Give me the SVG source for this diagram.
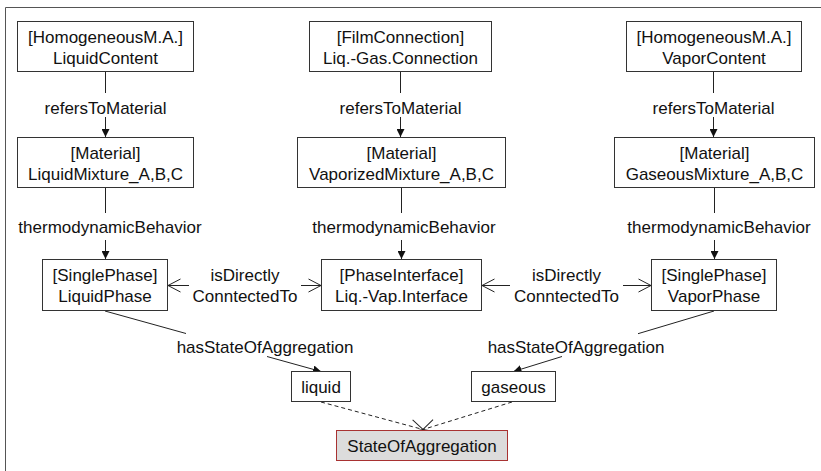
<svg xmlns="http://www.w3.org/2000/svg" width="821" height="471" viewBox="0 0 821 471">
<style>
text{font-family:"Liberation Sans",Arial,sans-serif;font-size:17px;fill:#111;text-anchor:middle}
.box{fill:#fff;stroke:#333;stroke-width:1}
.ln{stroke:#222;stroke-width:1;fill:none}
.dash{stroke:#222;stroke-width:1;fill:none;stroke-dasharray:4,3}
</style>
<defs>
<marker id="fa" viewBox="0 0 8 8" refX="8" refY="4" markerWidth="8" markerHeight="8" markerUnits="userSpaceOnUse" orient="auto"><path d="M0,0 L8,4 L0,8 z" fill="#111"/></marker>
<marker id="oa" viewBox="0 0 13 14" refX="12.5" refY="7" markerWidth="13" markerHeight="14" markerUnits="userSpaceOnUse" orient="auto" overflow="visible"><path d="M0,0.5 L12.5,7 L0,13.5" fill="none" stroke="#222" stroke-width="1"/></marker>
</defs>
<rect x="0" y="0" width="821" height="471" fill="#fff"/>
<path d="M5.5,480 V7.5 H830" fill="none" stroke="#555" stroke-width="1"/>

<g id="connectors">
<line class="ln" x1="105.5" y1="72" x2="105.5" y2="93"/>
<line class="ln" x1="105.5" y1="117" x2="105.5" y2="137" marker-end="url(#fa)"/>
<line class="ln" x1="400.5" y1="72" x2="400.5" y2="93"/>
<line class="ln" x1="400.5" y1="117" x2="400.5" y2="137" marker-end="url(#fa)"/>
<line class="ln" x1="713.5" y1="72" x2="713.5" y2="93"/>
<line class="ln" x1="713.5" y1="117" x2="713.5" y2="137" marker-end="url(#fa)"/>
<line class="ln" x1="105.5" y1="188" x2="105.5" y2="213"/>
<line class="ln" x1="105.5" y1="240" x2="105.5" y2="259" marker-end="url(#fa)"/>
<line class="ln" x1="401.5" y1="188" x2="401.5" y2="213"/>
<line class="ln" x1="401.5" y1="240" x2="401.5" y2="259" marker-end="url(#fa)"/>
<line class="ln" x1="714.5" y1="188" x2="714.5" y2="213"/>
<line class="ln" x1="714.5" y1="240" x2="714.5" y2="259" marker-end="url(#fa)"/>
<line class="ln" x1="189" y1="285.5" x2="168" y2="285.5" marker-end="url(#oa)"/>
<line class="ln" x1="301" y1="285.5" x2="321" y2="285.5" marker-end="url(#oa)"/>
<line class="ln" x1="510" y1="285.5" x2="482" y2="285.5" marker-end="url(#oa)"/>
<line class="ln" x1="623" y1="285.5" x2="651" y2="285.5" marker-end="url(#oa)"/>
<line class="ln" x1="105" y1="311" x2="186" y2="333.5"/>
<line class="ln" x1="267" y1="356.5" x2="321" y2="371.5" marker-end="url(#fa)"/>
<line class="ln" x1="714" y1="311" x2="638" y2="333.7"/>
<line class="ln" x1="562" y1="356.5" x2="513.5" y2="371.5" marker-end="url(#fa)"/>
<line class="dash" x1="321" y1="402" x2="423" y2="429.5" marker-end="url(#oa)"/>
<line class="dash" x1="512" y1="402" x2="423" y2="429.5" marker-end="url(#oa)"/>
<text x="105.5" y="114">refersToMaterial</text>
<text x="400.5" y="114">refersToMaterial</text>
<text x="713.5" y="114">refersToMaterial</text>
<text x="110" y="233">thermodynamicBehavior</text>
<text x="404" y="233">thermodynamicBehavior</text>
<text x="719" y="233">thermodynamicBehavior</text>
<text x="245" y="281">isDirectly</text>
<text x="245" y="302">ConntectedTo</text>
<text x="566.5" y="281">isDirectly</text>
<text x="566.5" y="302">ConntectedTo</text>
<text x="265" y="353">hasStateOfAggregation</text>
<text x="576" y="353">hasStateOfAggregation</text>
</g>

<g id="liquidContent"><rect class="box" x="17.5" y="21.5" width="176" height="50"/><text x="105.5" y="42.5">[HomogeneousM.A.]</text><text x="105.5" y="63.5">LiquidContent</text></g>
<g id="liqGasConnection"><rect class="box" x="309.5" y="21.5" width="182" height="50"/><text x="400.5" y="42.5">[FilmConnection]</text><text x="400.5" y="63.5">Liq.-Gas.Connection</text></g>
<g id="vaporContent"><rect class="box" x="626.5" y="21.5" width="175" height="50"/><text x="714" y="42.5">[HomogeneousM.A.]</text><text x="714" y="63.5">VaporContent</text></g>

<g id="liquidMixture"><rect class="box" x="17.5" y="137.5" width="176" height="50"/><text x="105.5" y="158.5">[Material]</text><text x="105.5" y="179.5">LiquidMixture_A,B,C</text></g>
<g id="vaporizedMixture"><rect class="box" x="297.5" y="137.5" width="208" height="50"/><text x="401.5" y="158.5">[Material]</text><text x="401.5" y="179.5">VaporizedMixture_A,B,C</text></g>
<g id="gaseousMixture"><rect class="box" x="614.5" y="137.5" width="200" height="50"/><text x="714.5" y="158.5">[Material]</text><text x="714.5" y="179.5">GaseousMixture_A,B,C</text></g>

<g id="liquidPhase"><rect class="box" x="42.5" y="259.5" width="125" height="51"/><text x="105" y="281">[SinglePhase]</text><text x="105" y="302">LiquidPhase</text></g>
<g id="liqVapInterface"><rect class="box" x="321.5" y="259.5" width="160" height="51"/><text x="401.5" y="281">[PhaseInterface]</text><text x="401.5" y="302">Liq.-Vap.Interface</text></g>
<g id="vaporPhase"><rect class="box" x="651.5" y="259.5" width="125" height="51"/><text x="714" y="281">[SinglePhase]</text><text x="714" y="302">VaporPhase</text></g>

<g id="liquid"><rect class="box" x="291.5" y="371.5" width="59" height="30"/><text x="321" y="393">liquid</text></g>
<g id="gaseous"><rect class="box" x="471.5" y="371.5" width="84" height="30"/><text x="513.5" y="393">gaseous</text></g>

<g id="stateOfAggregation"><rect x="336.5" y="430.5" width="171" height="30" fill="#dcdcdc" stroke="#a83232" stroke-width="1"/><text x="422" y="452">StateOfAggregation</text></g>
</svg>
